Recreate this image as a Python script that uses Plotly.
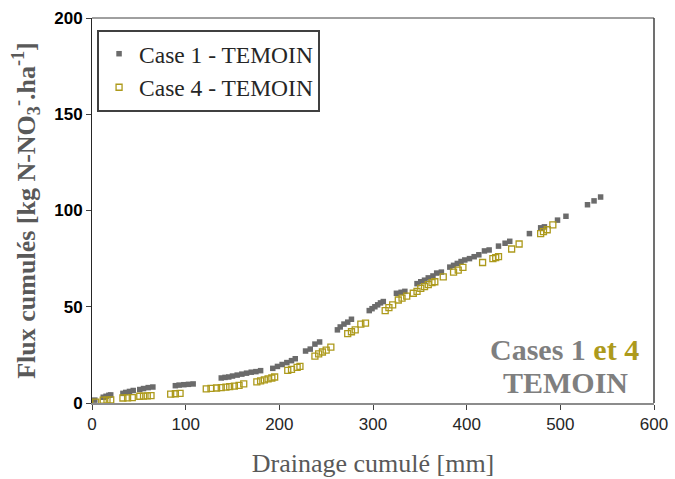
import plotly.graph_objects as go

# Case 1 - TEMOIN (drainage mm, cumulative flux kg N-NO3/ha)
case1_x = [3, 12, 15, 18, 20, 33, 36, 40, 44, 51, 55, 60, 65, 89, 93, 98, 103, 108,
           138, 142, 146, 150, 155, 160, 165, 170, 175, 180, 193, 198, 203, 208, 213, 217,
           228, 233, 238, 243, 262, 265, 269, 273, 277, 296, 299, 302, 305, 308, 311,
           325, 330, 334, 347, 351, 355, 359, 364, 368, 373, 382, 386, 390, 394, 398, 403,
           408, 413, 419, 424, 434, 441, 446, 467, 479, 483, 497, 506, 529, 536, 543]
case1_y = [1.5, 3, 3.5, 4, 4.2, 5, 5.5, 6, 6.5, 7, 7.5, 8, 8.3, 9, 9.3, 9.5, 9.7, 9.9,
           13, 13.3, 13.5, 14, 14.5, 15, 15.5, 16, 16.3, 16.8, 18, 19, 20, 21, 22, 23,
           27, 28, 30.6, 31.7, 38, 39.5, 41, 42, 43.5, 48, 49, 50, 51, 52, 52.7,
           57, 57.5, 58, 62, 63, 63.8, 65, 66, 67.5, 68, 70.6, 71.5, 72.5, 73.5, 74.3, 75,
           76, 77, 79, 79.5, 81.5, 83, 84, 88, 91, 91.5, 95, 97, 103, 105, 107]

# Case 4 - TEMOIN
case4_x = [4, 12, 16, 20, 33, 38, 43, 51, 55, 59, 63, 84, 89, 94, 122, 127, 133, 138, 143,
           147, 152, 157, 162, 176, 180, 184, 188, 192, 195, 209, 213, 219, 222, 238, 242,
           246, 250, 255, 273, 277, 281, 287, 292, 313, 317, 321, 327, 331, 336, 343, 347,
           351, 355, 359, 363, 366, 375, 386, 391, 396, 417, 428, 431, 434, 448, 456, 479,
           482, 486, 492]
case4_y = [0.5, 1.5, 1.5, 1.6, 2.6, 2.7, 2.8, 3.5, 3.6, 3.7, 3.8, 4.6, 4.8, 5, 7.3, 7.6,
           7.8, 8, 8.2, 8.5, 8.8, 9.2, 9.9, 11, 11.5, 12, 12.5, 13, 13.5, 17, 17.5, 18.5, 19,
           24.4, 25.5, 26.5, 27.5, 29, 36, 37, 38, 41, 41.5, 48, 49.5, 51, 53.5, 54.5, 55.5,
           57, 58, 59.5, 60.5, 61.5, 62.5, 63, 65.5, 68, 69, 70.5, 73, 75, 75.5, 76, 80,
           82.6, 88, 89, 90, 92.5]

x_ticks = [0, 100, 200, 300, 400, 500, 600]
y_ticks = [0, 50, 100, 150, 200]

GRAY = "#6b6b6b"
GOLD = "#ad9a1c"
SERIF = "Liberation Serif"
SANS = "Liberation Sans"

fig = go.Figure()
fig.add_trace(go.Scatter(
    x=case1_x, y=case1_y, mode="markers", name="Case 1 - TEMOIN", legendgroup="a",
    marker=dict(symbol="square", size=5.5, color=GRAY, line=dict(width=0)),
))
fig.add_trace(go.Scatter(
    x=case4_x, y=case4_y, mode="markers", name="Case 4 - TEMOIN", legendgroup="b",
    marker=dict(symbol="square-open", size=6, color=GOLD, line=dict(width=1.3, color=GOLD)),
))

fig.update_layout(
    width=675, height=479,
    margin=dict(l=92, r=21, t=18, b=76, autoexpand=False),
    paper_bgcolor="white", plot_bgcolor="white",
    showlegend=True,
    legend=dict(
        x=0.009, y=0.969, xanchor="left", yanchor="top",
        bgcolor="white", bordercolor="#404040", borderwidth=2,
        font=dict(family=SERIF, size=23.5, color="#262626"),
        itemsizing="trace", traceorder="grouped", tracegroupgap=0, itemwidth=30,
    ),
    xaxis=dict(
        range=[0, 600], tickvals=x_ticks, ticks="outside", ticklen=5, tickcolor="#404040",
        showgrid=False, zeroline=False, showline=True, linecolor="#8c8c8c", linewidth=2,
        automargin=False,
        tickfont=dict(family=SANS, size=17, color="#262626"),
        title=dict(text="Drainage cumulé [mm]", font=dict(family=SERIF, size=26, color="#595959"),
                   standoff=20),
    ),
    yaxis=dict(
        range=[0, 200], tickvals=y_ticks, ticks="outside", ticklen=5, tickcolor="#404040",
        showgrid=False, zeroline=False, showline=True, linecolor="#262626", linewidth=1,
        automargin=False,
        tickfont=dict(family=SANS, size=17, color="#000000", weight="bold"),
        title=dict(text="<b>Flux cumulés [kg N-NO<sub>3</sub><sup>-</sup>.ha<sup>-1</sup>]</b>",
                   font=dict(family=SERIF, size=26, color="#595959"), standoff=11),
    ),
    shapes=[
        dict(type="line", xref="paper", yref="paper", x0=0, x1=1, y0=1, y1=1,
             line=dict(color="#404040", width=1)),
        dict(type="line", xref="paper", yref="paper", x0=1, x1=1, y0=0, y1=1,
             line=dict(color="#404040", width=1.5)),
    ],
    annotations=[
        dict(xref="paper", yref="paper", x=0.976, y=0.14, xanchor="right", yanchor="middle",
             showarrow=False,
             text=f"<b><span style='color:#7f7f7f'>Cases 1 </span><span style='color:{GOLD}'>et 4</span></b>",
             font=dict(family=SERIF, size=30, color="#7f7f7f")),
        dict(xref="paper", yref="paper", x=0.958, y=0.052, xanchor="right", yanchor="middle",
             showarrow=False, text="<b>TEMOIN</b>",
             font=dict(family=SERIF, size=30, color="#7f7f7f")),
    ],
)

fig.write_html("out.html", config={"displayModeBar": False},
               post_script="document.body.style.margin='0px';")
